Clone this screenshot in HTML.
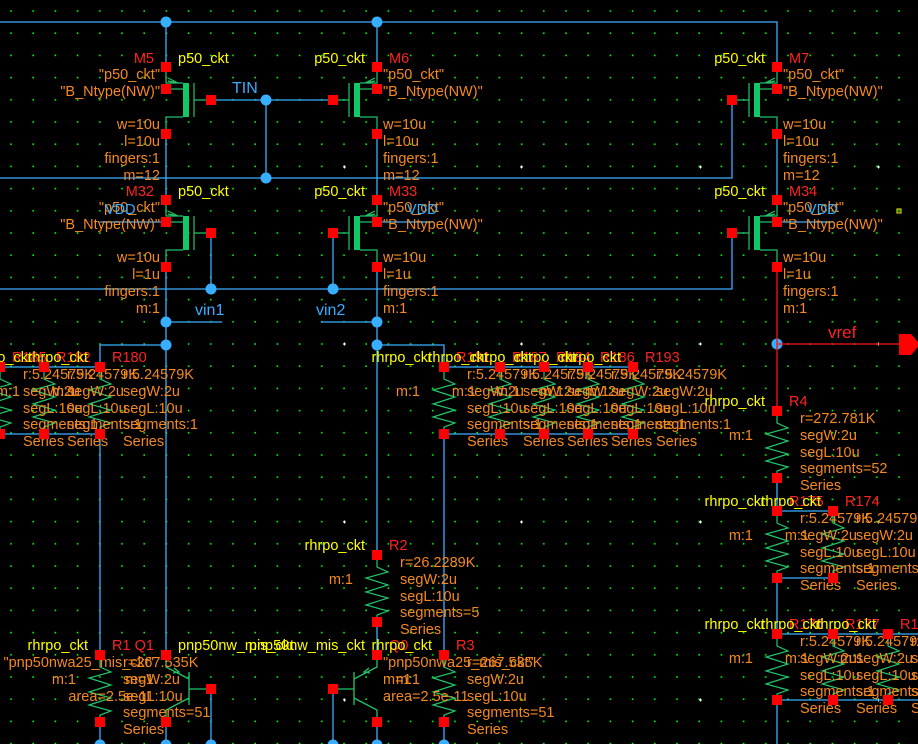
<!DOCTYPE html>
<html>
<head>
<meta charset="utf-8">
<style>
html,body{margin:0;padding:0;background:#000;width:918px;height:744px;overflow:hidden}
svg{display:block}
text{font-family:"Liberation Sans","DejaVu Sans",sans-serif;font-size:14.5px}
.o{fill:#f5891f}
.r{fill:#ff2222}
.y{fill:#ffff00}
.b{fill:#38aeff}
.e{text-anchor:end}
.n{font-size:16px}
</style>
</head>
<body>
<svg width="918" height="744" viewBox="0 0 918 744" xmlns="http://www.w3.org/2000/svg">
<defs>
<pattern id="grid" x="0" y="0" width="22.2" height="22.2" patternUnits="userSpaceOnUse">
<rect x="10.2" y="10.2" width="1.6" height="1.6" fill="#00ff00"/>
</pattern>
<g id="nm">
<path d="M0 5V16H17M5 22H17M0 62V50H17M28 16V50M28 33H40M2 11L12 16M2 14L12 16" stroke="#22c46a" stroke-width="1.2" fill="none"/>
<rect x="17" y="16" width="6" height="34" fill="#10c868"/>
</g>
<path id="rz" d="M0 5V12L11 17L-11 23L11 30L-11 37L11 43L-11 50L11 56L0 60V62" stroke="#22c46a" stroke-width="1.2" fill="none"/>
<path id="q" d="M0 5V12L23 24M0 62V55L23 43M23 17V50M23 34H40M8 13L13 17L7 18" stroke="#22c46a" stroke-width="1.3" fill="none"/>
<rect id="p" x="-5" y="-5" width="10" height="10" fill="#ff0000"/>
</defs>

<rect width="918" height="744" fill="#000"/>
<rect width="918" height="744" fill="url(#grid)"/>

<!-- white markers -->
<path d="M343 167h3M344.5 165.5v3M520 167h3M521.5 165.5v3M699 167h3M700.5 165.5v3M877 167h3M878.5 165.5v3M343 344h3M344.5 342.5v3M520 344h3M521.5 342.5v3M699 344h3M700.5 342.5v3M877 344h3M878.5 342.5v3M343 522h3M344.5 520.5v3M520 522h3M521.5 520.5v3M699 522h3M700.5 520.5v3M877 522h3M878.5 520.5v3M343 700h3M344.5 698.5v3M699 700h3M700.5 698.5v3M877 700h3M878.5 698.5v3" stroke="#fff" stroke-width="1"/>
<rect x="897" y="209" width="4" height="4" fill="none" stroke="#ffff00" stroke-width="1"/>

<!-- blue wires -->
<path d="M0 22H777V62M166 22V62M377 22V62M166 139V195M377 139V195M777 139V195
M216 100H328M266 100V178M0 178H732V105
M211 238V289M333 238V289M0 289H732V238
M166 272V650M377 272V550M166 322H222M321 322H377
M100 345H166M100 345V362M377 345H444V362
M0 367H100M0 434H100M100 439V650
M444 367H633M444 434H633M444 439V650
M377 627V650
M100 727V744M166 727V744M211 694V744M333 694V744M377 727V744M444 727V744
M777 483V506M777 511H833M777 578H833M777 583V629M777 634H918M777 700H918M777 705V744
M100 222H166M377 222H433M777 222H833" stroke="#38aeff" stroke-width="1.3" fill="none"/>

<!-- junction dots -->
<g fill="#38aeff">
<circle cx="166" cy="22" r="5.5"/><circle cx="377" cy="22" r="5.5"/>
<circle cx="266" cy="100" r="5.5"/><circle cx="266" cy="178" r="5.5"/>
<circle cx="211" cy="289" r="5.5"/><circle cx="333" cy="289" r="5.5"/>
<circle cx="166" cy="322" r="5.5"/><circle cx="377" cy="322" r="5.5"/>
<circle cx="166" cy="345" r="5.5"/><circle cx="377" cy="345" r="5.5"/>
<circle cx="777" cy="344" r="5.5"/>
<circle cx="100" cy="745" r="5.5"/><circle cx="166" cy="745" r="5.5"/><circle cx="211" cy="745" r="5.5"/>
<circle cx="333" cy="745" r="5.5"/><circle cx="377" cy="745" r="5.5"/><circle cx="444" cy="745" r="5.5"/>
</g>

<!-- red net -->
<path d="M777 272V406M777 344H900" stroke="#ff1010" stroke-width="1.3" fill="none"/>
<polygon points="899,334 911,334 920,344.5 911,355 899,355" fill="#ff0000"/>

<!-- devices -->
<use href="#nm" x="166" y="67"/>
<use href="#nm" transform="translate(377 67) scale(-1 1)"/>
<use href="#nm" transform="translate(777 67) scale(-1 1)"/>
<use href="#nm" x="166" y="200"/>
<use href="#nm" transform="translate(377 200) scale(-1 1)"/>
<use href="#nm" transform="translate(777 200) scale(-1 1)"/>

<use href="#rz" x="0" y="367"/><use href="#rz" x="44" y="367"/><use href="#rz" x="100" y="367"/>
<use href="#rz" x="444" y="367"/><use href="#rz" x="500" y="367"/><use href="#rz" x="544" y="367"/><use href="#rz" x="588" y="367"/><use href="#rz" x="633" y="367"/>
<use href="#rz" x="377" y="555"/>
<use href="#rz" x="777" y="411"/>
<use href="#rz" x="777" y="511"/><use href="#rz" x="833" y="511"/>
<use href="#rz" x="777" y="634"/><use href="#rz" x="833" y="634"/><use href="#rz" x="888" y="634"/>
<use href="#rz" x="100" y="655"/><use href="#rz" x="444" y="655"/>

<use href="#q" x="166" y="655"/>
<use href="#q" transform="translate(377 655) scale(-1 1)"/>

<!-- text: transistors -->
<text class="r e" x="154" y="63">M5</text>
<text class="y" x="178" y="63">p50_ckt</text>
<text class="o e" x="160" y="79">"p50_ckt"</text>
<text class="o e" x="160" y="96">"B_Ntype(NW)"</text>
<text class="o e" x="160" y="129">w=10u</text>
<text class="o e" x="160" y="146">l=10u</text>
<text class="o e" x="160" y="163">fingers:1</text>
<text class="o e" x="160" y="180">m=12</text>

<text class="r" x="389" y="63">M6</text>
<text class="y e" x="365" y="63">p50_ckt</text>
<text class="o" x="383" y="79">"p50_ckt"</text>
<text class="o" x="383" y="96">"B_Ntype(NW)"</text>
<text class="o" x="383" y="129">w=10u</text>
<text class="o" x="383" y="146">l=10u</text>
<text class="o" x="383" y="163">fingers:1</text>
<text class="o" x="383" y="180">m=12</text>

<text class="r" x="789" y="63">M7</text>
<text class="y e" x="765" y="63">p50_ckt</text>
<text class="o" x="783" y="79">"p50_ckt"</text>
<text class="o" x="783" y="96">"B_Ntype(NW)"</text>
<text class="o" x="783" y="129">w=10u</text>
<text class="o" x="783" y="146">l=10u</text>
<text class="o" x="783" y="163">fingers:1</text>
<text class="o" x="783" y="180">m=12</text>

<text class="r e" x="154" y="196">M32</text>
<text class="y" x="178" y="196">p50_ckt</text>
<text class="o e" x="160" y="212">"p50_ckt"</text>
<text class="o e" x="160" y="229">"B_Ntype(NW)"</text>
<text class="o e" x="160" y="262">w=10u</text>
<text class="o e" x="160" y="279">l=1u</text>
<text class="o e" x="160" y="296">fingers:1</text>
<text class="o e" x="160" y="313">m:1</text>

<text class="r" x="389" y="196">M33</text>
<text class="y e" x="365" y="196">p50_ckt</text>
<text class="o" x="383" y="212">"p50_ckt"</text>
<text class="o" x="383" y="229">"B_Ntype(NW)"</text>
<text class="o" x="383" y="262">w=10u</text>
<text class="o" x="383" y="279">l=1u</text>
<text class="o" x="383" y="296">fingers:1</text>
<text class="o" x="383" y="313">m:1</text>

<text class="r" x="789" y="196">M34</text>
<text class="y e" x="765" y="196">p50_ckt</text>
<text class="o" x="783" y="212">"p50_ckt"</text>
<text class="o" x="783" y="229">"B_Ntype(NW)"</text>
<text class="o" x="783" y="262">w=10u</text>
<text class="o" x="783" y="279">l=1u</text>
<text class="o" x="783" y="296">fingers:1</text>
<text class="o" x="783" y="313">m:1</text>

<!-- net labels -->
<text class="b n" x="232" y="93">TIN</text>
<text class="b n" x="195" y="315">vin1</text>
<text class="b n" x="316" y="315">vin2</text>
<text class="b" x="105" y="214">VDD</text>
<text class="b" x="407" y="214">VDD</text>
<text class="b" x="807" y="214">VDD</text>
<text class="r" x="828" y="338" style="font-size:17px">vref</text>

<!-- left cluster -->
<text class="y e" x="-12" y="362">rhrpo_ckt</text><text class="r" x="12" y="362">R185</text>
<text class="o" x="23" y="379">r:5.24579K</text><text class="o" x="23" y="396">segW:2u</text><text class="o" x="23" y="413">segL:10u</text><text class="o" x="23" y="429">segments:1</text><text class="o" x="23" y="446">Series</text>
<text class="y e" x="32" y="362">rhrpo_ckt</text><text class="r" x="56" y="362">R182</text><text class="o e" x="20" y="396">m:1</text>
<text class="o" x="67" y="379">r:5.24579K</text><text class="o" x="67" y="396">segW:2u</text><text class="o" x="67" y="413">segL:10u</text><text class="o" x="67" y="429">segments:1</text><text class="o" x="67" y="446">Series</text>
<text class="y e" x="88" y="362">rhrpo_ckt</text><text class="r" x="112" y="362">R180</text><text class="o e" x="76" y="396">m:1</text>
<text class="o" x="123" y="379">r:5.24579K</text><text class="o" x="123" y="396">segW:2u</text><text class="o" x="123" y="413">segL:10u</text><text class="o" x="123" y="429">segments:1</text><text class="o" x="123" y="446">Series</text>

<!-- middle cluster -->
<text class="y e" x="432" y="362">rhrpo_ckt</text><text class="r" x="456" y="362">R191</text><text class="o e" x="420" y="396">m:1</text>
<text class="o" x="467" y="379">r:5.24579K</text><text class="o" x="467" y="396">segW:2u</text><text class="o" x="467" y="413">segL:10u</text><text class="o" x="467" y="429">segments:1</text><text class="o" x="467" y="446">Series</text>
<text class="y e" x="488" y="362">rhrpo_ckt</text><text class="r" x="512" y="362">R187</text><text class="o e" x="476" y="396">m:1</text>
<text class="o" x="523" y="379">r:5.24579K</text><text class="o" x="523" y="396">segW:2u</text><text class="o" x="523" y="413">segL:10u</text><text class="o" x="523" y="429">segments:1</text><text class="o" x="523" y="446">Series</text>
<text class="y e" x="532" y="362">rhrpo_ckt</text><text class="r" x="556" y="362">R184</text><text class="o e" x="520" y="396">m:1</text>
<text class="o" x="567" y="379">r:5.24579K</text><text class="o" x="567" y="396">segW:2u</text><text class="o" x="567" y="413">segL:10u</text><text class="o" x="567" y="429">segments:1</text><text class="o" x="567" y="446">Series</text>
<text class="y e" x="576" y="362">rhrpo_ckt</text><text class="r" x="600" y="362">R186</text><text class="o e" x="564" y="396">m:1</text>
<text class="o" x="611" y="379">r:5.24579K</text><text class="o" x="611" y="396">segW:2u</text><text class="o" x="611" y="413">segL:10u</text><text class="o" x="611" y="429">segments:1</text><text class="o" x="611" y="446">Series</text>
<text class="y e" x="621" y="362">rhrpo_ckt</text><text class="r" x="645" y="362">R193</text><text class="o e" x="609" y="396">m:1</text>
<text class="o" x="656" y="379">r:5.24579K</text><text class="o" x="656" y="396">segW:2u</text><text class="o" x="656" y="413">segL:10u</text><text class="o" x="656" y="429">segments:1</text><text class="o" x="656" y="446">Series</text>

<!-- R2 -->
<text class="y e" x="365" y="550">rhrpo_ckt</text><text class="r" x="389" y="550">R2</text><text class="o e" x="353" y="584">m:1</text>
<text class="o" x="400" y="567">r=26.2289K</text><text class="o" x="400" y="584">segW:2u</text><text class="o" x="400" y="601">segL:10u</text><text class="o" x="400" y="617">segments=5</text><text class="o" x="400" y="634">Series</text>

<!-- R4 -->
<text class="y e" x="765" y="406">rhrpo_ckt</text><text class="r" x="789" y="406">R4</text><text class="o e" x="753" y="440">m:1</text>
<text class="o" x="800" y="423">r=272.781K</text><text class="o" x="800" y="440">segW:2u</text><text class="o" x="800" y="457">segL:10u</text><text class="o" x="800" y="473">segments=52</text><text class="o" x="800" y="490">Series</text>

<!-- R175 / R174 -->
<text class="y e" x="765" y="506">rhrpo_ckt</text><text class="r" x="789" y="506">R175</text><text class="o e" x="753" y="540">m:1</text>
<text class="o" x="800" y="523">r:5.24579K</text><text class="o" x="800" y="540">segW:2u</text><text class="o" x="800" y="557">segL:10u</text><text class="o" x="800" y="573">segments:1</text><text class="o" x="800" y="590">Series</text>
<text class="y e" x="821" y="506">rhrpo_ckt</text><text class="r" x="845" y="506">R174</text><text class="o e" x="809" y="540">m:1</text>
<text class="o" x="856" y="523">r:5.24579K</text><text class="o" x="856" y="540">segW:2u</text><text class="o" x="856" y="557">segL:10u</text><text class="o" x="856" y="573">segments:1</text><text class="o" x="856" y="590">Series</text>

<!-- row 3 right -->
<text class="y e" x="765" y="629">rhrpo_ckt</text><text class="r" x="789" y="629">R176</text><text class="o e" x="753" y="663">m:1</text>
<text class="o" x="800" y="646">r:5.24579K</text><text class="o" x="800" y="663">segW:2u</text><text class="o" x="800" y="680">segL:10u</text><text class="o" x="800" y="696">segments:1</text><text class="o" x="800" y="713">Series</text>
<text class="y e" x="821" y="629">rhrpo_ckt</text><text class="r" x="845" y="629">R177</text><text class="o e" x="809" y="663">m:1</text>
<text class="o" x="856" y="646">r:5.24579K</text><text class="o" x="856" y="663">segW:2u</text><text class="o" x="856" y="680">segL:10u</text><text class="o" x="856" y="696">segments:1</text><text class="o" x="856" y="713">Series</text>
<text class="y e" x="876" y="629">rhrpo_ckt</text><text class="r" x="900" y="629">R178</text><text class="o e" x="864" y="663">m:1</text>
<text class="o" x="911" y="646">r:5.24579K</text><text class="o" x="911" y="663">segW:2u</text><text class="o" x="911" y="680">segL:10u</text><text class="o" x="911" y="696">segments:1</text><text class="o" x="911" y="713">Series</text>

<!-- R1 / Q1 -->
<text class="y e" x="88" y="650">rhrpo_ckt</text><text class="r" x="112" y="650">R1</text><text class="o e" x="76" y="684">m:1</text>
<text class="o" x="123" y="667">r=267.535K</text><text class="o" x="123" y="684">segW:2u</text><text class="o" x="123" y="701">segL:10u</text><text class="o" x="123" y="717">segments=51</text><text class="o" x="123" y="734">Series</text>
<text class="r e" x="154" y="650">Q1</text><text class="y" x="178" y="650">pnp50nw_mis_ckt</text>
<text class="o e" x="154" y="667">"pnp50nwa25_mis_ckt"</text><text class="o e" x="154" y="684">m=1</text><text class="o e" x="154" y="701">area=2.5e-11</text>

<!-- Q2 / R3 -->
<text class="y e" x="365" y="650">pnp50nw_mis_ckt</text><text class="r" x="389" y="650">Q0</text>
<text class="o" x="383" y="667">"pnp50nwa25_mis_ckt"</text><text class="o" x="383" y="684">m=1</text><text class="o" x="383" y="701">area=2.5e-11</text>
<text class="y e" x="432" y="650">rhrpo_ckt</text><text class="r" x="456" y="650">R3</text><text class="o e" x="420" y="684">m:1</text>
<text class="o" x="467" y="667">r=267.535K</text><text class="o" x="467" y="684">segW:2u</text><text class="o" x="467" y="701">segL:10u</text><text class="o" x="467" y="717">segments=51</text><text class="o" x="467" y="734">Series</text>

<!-- pins -->
<g>
<use href="#p" x="166" y="67"/><use href="#p" x="166" y="89"/><use href="#p" x="166" y="134"/><use href="#p" x="211" y="100"/>
<use href="#p" x="377" y="67"/><use href="#p" x="377" y="89"/><use href="#p" x="377" y="134"/><use href="#p" x="333" y="100"/>
<use href="#p" x="777" y="67"/><use href="#p" x="777" y="89"/><use href="#p" x="777" y="134"/><use href="#p" x="732" y="100"/>
<use href="#p" x="166" y="200"/><use href="#p" x="166" y="222"/><use href="#p" x="166" y="267"/><use href="#p" x="211" y="233"/>
<use href="#p" x="377" y="200"/><use href="#p" x="377" y="222"/><use href="#p" x="377" y="267"/><use href="#p" x="333" y="233"/>
<use href="#p" x="777" y="200"/><use href="#p" x="777" y="222"/><use href="#p" x="777" y="267"/><use href="#p" x="732" y="233"/>
<use href="#p" x="0" y="367"/><use href="#p" x="0" y="434"/>
<use href="#p" x="44" y="367"/><use href="#p" x="44" y="434"/>
<use href="#p" x="100" y="367"/><use href="#p" x="100" y="434"/>
<use href="#p" x="444" y="367"/><use href="#p" x="444" y="434"/>
<use href="#p" x="500" y="367"/><use href="#p" x="500" y="434"/>
<use href="#p" x="544" y="367"/><use href="#p" x="544" y="434"/>
<use href="#p" x="588" y="367"/><use href="#p" x="588" y="434"/>
<use href="#p" x="633" y="367"/><use href="#p" x="633" y="434"/>
<use href="#p" x="377" y="555"/><use href="#p" x="377" y="622"/>
<use href="#p" x="777" y="411"/><use href="#p" x="777" y="478"/>
<use href="#p" x="777" y="511"/><use href="#p" x="777" y="578"/>
<use href="#p" x="833" y="511"/><use href="#p" x="833" y="578"/>
<use href="#p" x="777" y="634"/><use href="#p" x="777" y="700"/>
<use href="#p" x="833" y="634"/><use href="#p" x="833" y="700"/>
<use href="#p" x="888" y="634"/><use href="#p" x="888" y="700"/>
<use href="#p" x="100" y="655"/><use href="#p" x="100" y="722"/>
<use href="#p" x="444" y="655"/><use href="#p" x="444" y="722"/>
<use href="#p" x="166" y="655"/><use href="#p" x="166" y="722"/><use href="#p" x="211" y="689"/>
<use href="#p" x="377" y="655"/><use href="#p" x="377" y="722"/><use href="#p" x="333" y="689"/>
</g>
</svg>
</body>
</html>
